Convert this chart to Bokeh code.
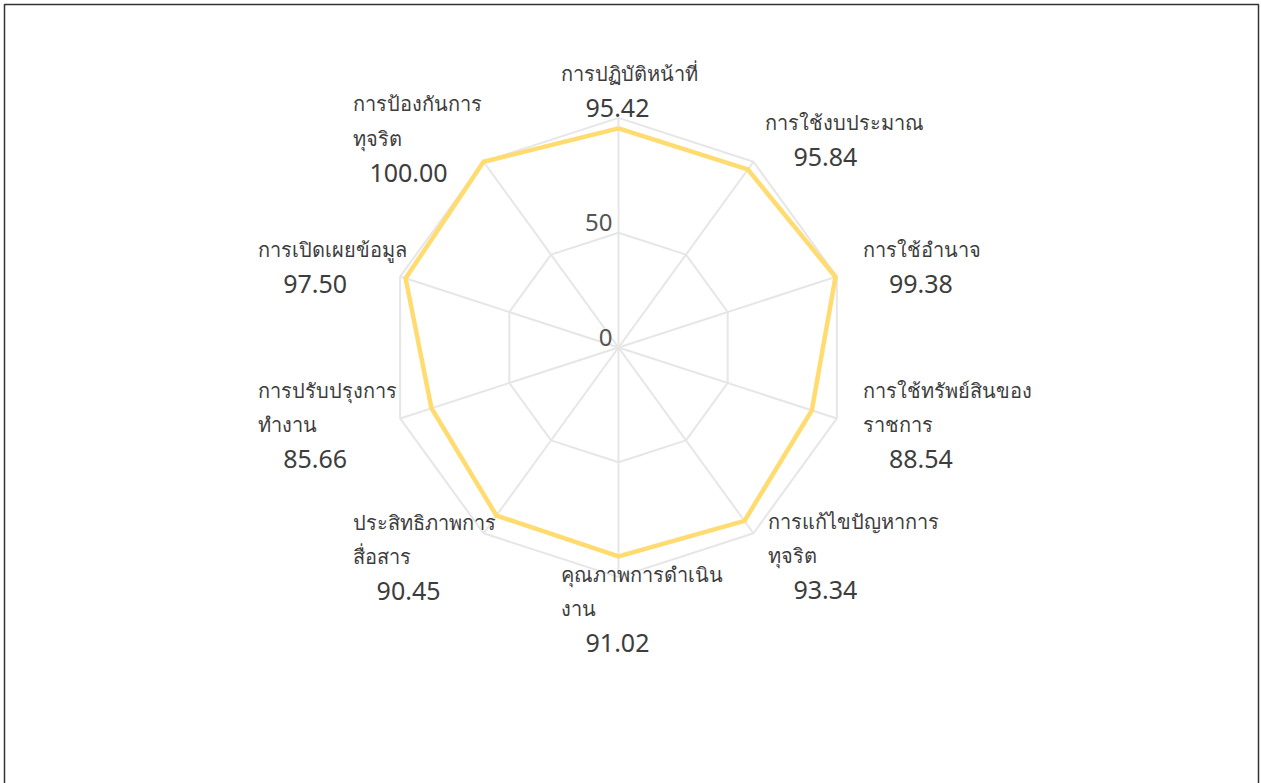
import math
from bokeh.plotting import figure
from bokeh.models import ColumnDataSource
from bokeh.core.properties import value
from bokeh.embed import file_html
from bokeh.resources import INLINE

# ---- data ----
categories = [
    ["การปฏิบัติหน้าที่"],
    ["การใช้งบประมาณ"],
    ["การใช้อำนาจ"],
    ["การใช้ทรัพย์สินของ", "ราชการ"],
    ["การแก้ไขปัญหาการ", "ทุจริต"],
    ["คุณภาพการดำเนิน", "งาน"],
    ["ประสิทธิภาพการ", "สื่อสาร"],
    ["การปรับปรุงการ", "ทำงาน"],
    ["การเปิดเผยข้อมูล"],
    ["การป้องกันการ", "ทุจริต"],
]
scores = [95.42, 95.84, 99.38, 88.54, 93.34, 91.02, 90.45, 85.66, 97.50, 100.00]
ticks = [0, 50, 100]
tick_labels = ["0", "50", ""]
r_max = 100

# ---- layout ----
W, H = 1261, 783
CX, CY = 618, 347          # centre of radar in canvas px
S = 2.296                  # px per unit
FONT = value("Noto Sans")
TXT = "#3d3d3d"

# label layout: (left x offset of text lines, centre x offset of value, y offset of first line) in px from outer vertex
label_layout = [
    (-58, -1, -44),
    (12, 72, -39),
    (26, 84, -27),
    (26, 84, -28),
    (15, 72, -12),
    (-58, -1, -3),
    (-131, -75, -11),
    (-142, -85, -28),
    (-142, -85, -27),
    (-131, -75, -58),
]
LINE_H = 34.5

p = figure(width=W, height=H, output_backend="svg", toolbar_location=None,
           x_range=(-CX / S, (W - CX) / S), y_range=(-(H - CY) / S, CY / S),
           min_border=0, background_fill_color="white", outline_line_color=None)
p.axis.visible = False
p.grid.visible = False


def sx(px):
    return (px - CX) / S


def sy(py):
    return (CY - py) / S


# page border
p.line([sx(4), sx(4), sx(1258), sx(1258)], [sy(800), sy(4), sy(4), sy(800)],
       line_color="#333333", line_width=1.5)

n = len(scores)
angles = [2 * math.pi * i / n for i in range(n)]


def pt(r, a):
    return r * math.sin(a), r * math.cos(a)


# grid rings
GRID = "#e6e6e6"
for t in ticks[1:]:
    xs = [pt(t, a)[0] for a in angles] + [pt(t, angles[0])[0]]
    ys = [pt(t, a)[1] for a in angles] + [pt(t, angles[0])[1]]
    p.line(xs, ys, line_color=GRID, line_width=2)
# spokes
p.segment(x0=[0] * n, y0=[0] * n,
          x1=[pt(r_max, a)[0] for a in angles], y1=[pt(r_max, a)[1] for a in angles],
          line_color=GRID, line_width=2)

# data polygon
dx = [pt(v, a)[0] for v, a in zip(scores, angles)]
dy = [pt(v, a)[1] for v, a in zip(scores, angles)]
p.line(dx + [dx[0]], dy + [dy[0]], line_color="#FFDB70", line_width=4.5, line_join="miter")

# tick labels
p.text(x=[0] * len(ticks), y=ticks, text=tick_labels, text_align="right", text_baseline="middle",
       x_offset=-6, y_offset=-10, text_font=FONT, text_font_size="24px", text_color="#555555")

# category labels
lx, ly, lt, lxo, lyo = [], [], [], [], []
vx, vy, vt, vxo, vyo = [], [], [], [], []
for i, (lines, v, a) in enumerate(zip(categories, scores, angles)):
    ox, oy = pt(r_max, a)
    tx, vcx, ty = label_layout[i]
    for k, line in enumerate(lines):
        lx.append(ox); ly.append(oy); lt.append(line)
        lxo.append(tx); lyo.append(ty + k * LINE_H)
    vx.append(ox); vy.append(oy); vt.append(f"{v:.2f}")
    vxo.append(vcx); vyo.append(ty + len(lines) * LINE_H)

p.text(x="x", y="y", text="t", x_offset="xo", y_offset="yo",
       source=ColumnDataSource(dict(x=lx, y=ly, t=lt, xo=lxo, yo=lyo)),
       text_align="left", text_baseline="middle", text_font=FONT, text_font_size="20px",
       text_color=TXT)
p.text(x="x", y="y", text="t", x_offset="xo", y_offset="yo",
       source=ColumnDataSource(dict(x=vx, y=vy, t=vt, xo=vxo, yo=vyo)),
       text_align="center", text_baseline="middle", text_font=FONT, text_font_size="25px",
       text_color=TXT)

open("out.html", "w").write(file_html(p, INLINE))
